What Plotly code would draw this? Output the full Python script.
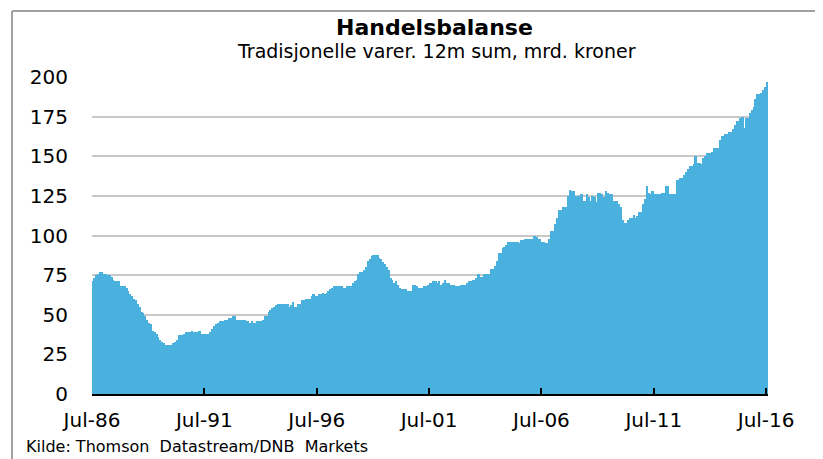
import numpy as np
import plotly.graph_objects as go

# ── Data: 12m sum trade balance, traditional goods (bn NOK), monthly Jul-86 .. Jul-16
bal_1986_1991 = [
    71, 73, 75, 76, 77, 77, 76, 76, 75, 75, 74, 72,
    71, 71, 71, 68, 68, 68, 67, 65, 63, 62, 60, 59,
    57, 55, 52, 51, 49, 47, 45, 44, 40, 39, 38, 36,
    34, 33, 32, 31, 31, 31, 31, 32, 33, 34, 37, 37,
    37, 38, 39, 39, 39, 40, 39, 39, 39, 40, 38, 38,
]
bal_1991_1996 = [
    38, 38, 38, 39, 41, 43, 44, 45, 46, 46, 46, 47,
    47, 48, 48, 49, 49, 47, 47, 47, 47, 47, 46, 46,
    45, 46, 45, 45, 46, 46, 46, 47, 49, 49, 52, 53,
    54, 55, 56, 57, 57, 57, 57, 57, 57, 55, 56, 58,
    55, 55, 57, 57, 59, 59, 60, 60, 60, 62, 63, 62,
]
bal_1996_2001 = [
    62, 63, 63, 64, 63, 64, 65, 66, 67, 68, 68, 68,
    68, 68, 67, 67, 68, 68, 68, 70, 71, 72, 76, 77,
    77, 78, 80, 84, 85, 87, 88, 88, 88, 86, 85, 83,
    82, 80, 78, 73, 72, 70, 71, 69, 67, 66, 66, 66,
    65, 65, 65, 69, 69, 68, 67, 67, 67, 68, 68, 69,
]
bal_2001_2006 = [
    70, 70, 71, 71, 70, 71, 69, 70, 72, 70, 70, 69,
    69, 69, 68, 68, 68, 69, 69, 69, 70, 71, 71, 72,
    72, 73, 76, 74, 74, 76, 76, 76, 76, 79, 79, 81,
    84, 89, 89, 92, 93, 94, 96, 96, 96, 96, 96, 96,
    95, 97, 97, 98, 98, 98, 98, 98, 100, 99, 98, 98,
]
bal_2006_2011 = [
    96, 96, 95, 95, 98, 103, 103, 107, 111, 116, 116, 118,
    118, 118, 125, 129, 128, 128, 125, 125, 125, 126, 122, 122,
    126, 124, 122, 125, 124, 121, 127, 127, 126, 124, 128, 127,
    126, 126, 122, 122, 122, 120, 118, 110, 108, 108, 110, 111,
    111, 113, 111, 112, 115, 115, 120, 123, 131, 127, 126, 128,
]
bal_2011_2016 = [
    126, 126, 126, 126, 127, 127, 131, 131, 126, 126, 126, 126,
    135, 135, 136, 136, 138, 140, 142, 144, 144, 145, 150, 146,
    146, 145, 149, 150, 152, 152, 152, 153, 155, 155, 155, 160,
    163, 163, 164, 164, 165, 165, 167, 170, 172, 172, 174, 175,
    168, 174, 174, 177, 179, 181, 186, 189, 189, 190, 192, 194,
    197,
]

tick_months = [0, 60, 120, 180, 240, 300, 360]
tick_labels = ["Jul-86", "Jul-91", "Jul-96", "Jul-01", "Jul-06", "Jul-11", "Jul-16"]
y_ticks = [0, 25, 50, 75, 100, 125, 150, 175, 200]

values = (bal_1986_1991 + bal_1991_1996 + bal_1996_2001
          + bal_2001_2006 + bal_2006_2011 + bal_2011_2016)
months = np.arange(len(values)) + 0.5

# ── Style
BAR = "#4AB0DE"
GRID = "#C8C8C8"
FRAME = "#A0A0A0"
FONT = "DejaVu Sans"

fig = go.Figure()
fig.add_trace(go.Bar(
    x=months, y=values, width=1,
    marker=dict(color=BAR, line=dict(width=0)),
    showlegend=False, hoverinfo="y",
))

# page has an 8px body margin, so the figure is a bit smaller than the window
fig.update_layout(
    width=815, height=451, autosize=False,
    paper_bgcolor="white", plot_bgcolor="white",
    margin=dict(l=84, r=55, t=69, b=65),
    bargap=0,
    font=dict(family=FONT, color="black", size=20),
    xaxis=dict(
        range=[0, len(values)],
        tickmode="array", tickvals=tick_months, ticktext=tick_labels,
        ticks="inside", ticklen=6, tickwidth=2, tickcolor="black",
        showline=True, linecolor="black", linewidth=2,
        showgrid=False, zeroline=False,
        ticklabelstandoff=7,
        tickfont=dict(size=20),
    ),
    yaxis=dict(
        range=[0, 200],
        tickmode="array", tickvals=y_ticks,
        showgrid=True, gridcolor=GRID, gridwidth=1.5,
        showline=False, zeroline=False, ticks="",
        ticklabelstandoff=23,
        tickfont=dict(size=20),
    ),
    annotations=[
        dict(text="<b>Handelsbalanse</b>", xref="paper", yref="paper",
             x=0.506, y=1.155, xanchor="center", yanchor="middle",
             showarrow=False, font=dict(size=22, family=FONT)),
        dict(text="Tradisjonelle varer. 12m sum, mrd. kroner",
             xref="paper", yref="paper",
             x=0.51, y=1.081, xanchor="center", yanchor="middle",
             showarrow=False, font=dict(size=19, family=FONT)),
        dict(text="Kilde: Thomson\u00a0 Datastream/DNB\u00a0 Markets",
             xref="paper", yref="paper",
             x=-0.1006, y=-0.167, xanchor="left", yanchor="middle",
             showarrow=False, font=dict(size=16, family=FONT)),
    ],
    shapes=[
        dict(type="line", xref="paper", yref="paper",
             x0=-0.1183, x1=-0.1183, y0=-0.25, y1=1.2082,
             line=dict(color=FRAME, width=2)),
        dict(type="line", xref="paper", yref="paper",
             x0=-0.1183, x1=1.1, y0=1.2082, y1=1.2082,
             line=dict(color=FRAME, width=2)),
    ],
)

fig.write_html("out.html")
